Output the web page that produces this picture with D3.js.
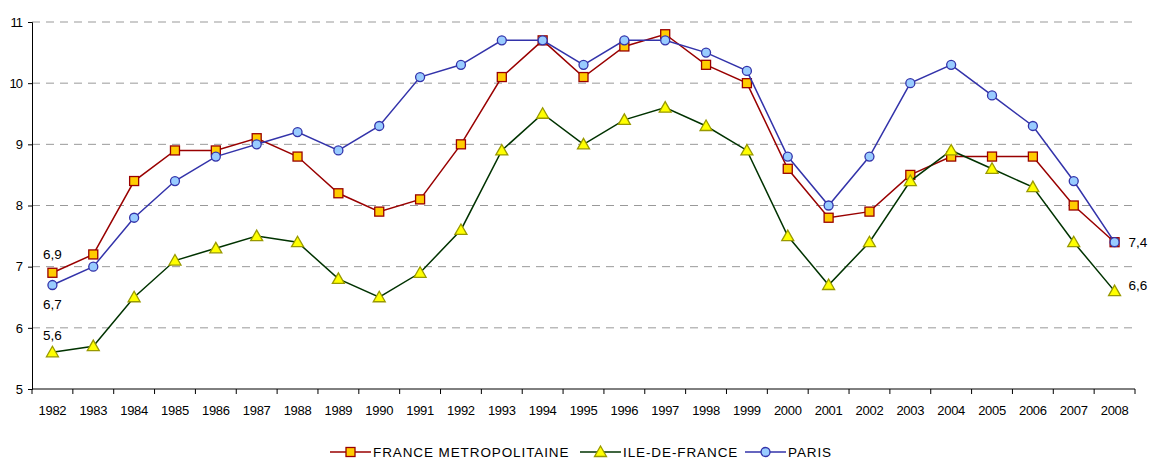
<!DOCTYPE html>
<html>
<head>
<meta charset="utf-8">
<script src="https://cdn.jsdelivr.net/npm/d3@7"></script>
<style>
  body { margin: 0; background: #fff; }
  svg { display: block; font-family: "Liberation Sans", Arial, sans-serif; }
  .grid line { stroke: #999; stroke-dasharray: 8 6; }
</style>
</head>
<body>
<svg width="1153" height="460"></svg>
<script>
// Data
const years = d3.range(1982, 2009);
const france = [6.9, 7.2, 8.4, 8.9, 8.9, 9.1, 8.8, 8.2, 7.9, 8.1, 9.0, 10.1, 10.7, 10.1, 10.6, 10.8, 10.3, 10.0, 8.6, 7.8, 7.9, 8.5, 8.8, 8.8, 8.8, 8.0, 7.4];
const idf    = [5.6, 5.7, 6.5, 7.1, 7.3, 7.5, 7.4, 6.8, 6.5, 6.9, 7.6, 8.9, 9.5, 9.0, 9.4, 9.6, 9.3, 8.9, 7.5, 6.7, 7.4, 8.4, 8.9, 8.6, 8.3, 7.4, 6.6];
const paris  = [6.7, 7.0, 7.8, 8.4, 8.8, 9.0, 9.2, 8.9, 9.3, 10.1, 10.3, 10.7, 10.7, 10.3, 10.7, 10.7, 10.5, 10.2, 8.8, 8.0, 8.8, 10.0, 10.3, 9.8, 9.3, 8.4, 7.4];
const yTicks = [5, 6, 7, 8, 9, 10, 11];

const series = [
  { name: "FRANCE METROPOLITAINE", values: france, line: "#990000", fill: "#FFCC00", stroke: "#990000", shape: "square", legendX: 330 },
  { name: "ILE-DE-FRANCE", values: idf, line: "#003300", fill: "#FFFF00", stroke: "#999900", shape: "triangle", legendX: 580 },
  { name: "PARIS", values: paris, line: "#3333AA", fill: "#99CCFF", stroke: "#3333AA", shape: "circle", legendX: 745 }
];

const svg = d3.select("svg");
const plotLeft = 32, plotRight = 1135, plotTop = 22, plotBottom = 389;

const x = d3.scaleBand().domain(years).range([plotLeft, plotRight]);
const y = d3.scaleLinear().domain([5, 11]).range([plotBottom, plotTop]);
const cx = d => x(d) + x.bandwidth() / 2;

// Gridlines
svg.append("g").attr("class", "grid")
  .selectAll("line")
  .data(yTicks.filter(t => t > 5))
  .enter().append("line")
  .attr("x1", plotLeft).attr("x2", plotRight)
  .attr("y1", d => y(d)).attr("y2", d => y(d));

// Y axis
const yAxis = svg.append("g")
  .attr("transform", `translate(${plotLeft},0)`)
  .call(d3.axisLeft(y).tickValues(yTicks).tickSize(4).tickPadding(6).tickFormat(d3.format("d")));
yAxis.select(".domain").attr("stroke", "#000");
yAxis.selectAll("text").attr("font-size", 13).attr("fill", "#000").style("letter-spacing", "-1px");

// X axis: ticks between categories
const xAxis = svg.append("g").attr("transform", `translate(0,${plotBottom})`);
xAxis.append("line").attr("x1", plotLeft).attr("x2", plotRight).attr("stroke", "#000");
xAxis.selectAll(".tk")
  .data(years.concat([2009]))
  .enter().append("line")
  .attr("x1", d => d === 2009 ? plotRight : x(d)).attr("x2", d => d === 2009 ? plotRight : x(d))
  .attr("y1", 0).attr("y2", 5).attr("stroke", "#000");
xAxis.selectAll("text")
  .data(years)
  .enter().append("text")
  .attr("x", d => cx(d)).attr("y", 26)
  .attr("text-anchor", "middle").attr("font-size", 13)
  .style("letter-spacing", "-0.3px")
  .text(d => d);

// Marker drawing
function marker(sel, s) {
  if (s.shape === "square") {
    sel.append("rect").attr("x", -4.5).attr("y", -4.5).attr("width", 9).attr("height", 9);
  } else if (s.shape === "triangle") {
    sel.append("path").attr("d", "M0,-6L6,4.5L-6,4.5Z");
  } else {
    sel.append("circle").attr("r", 4.5);
  }
  sel.selectAll("*").attr("fill", s.fill).attr("stroke", s.stroke).attr("stroke-width", 1.3);
}

const line = d3.line().x((d, i) => cx(years[i])).y(d => y(d));

series.forEach(s => {
  const g = svg.append("g");
  g.append("path").datum(s.values)
    .attr("d", line).attr("fill", "none")
    .attr("stroke", s.line).attr("stroke-width", 1.5);
  g.selectAll(".m")
    .data(s.values)
    .enter().append("g")
    .attr("transform", (d, i) => `translate(${cx(years[i])},${y(d)})`)
    .each(function() { marker(d3.select(this), s); });

  // Legend
  const lg = svg.append("g").attr("transform", `translate(${s.legendX},452)`);
  lg.append("line").attr("x1", 0).attr("x2", 41).attr("stroke", s.line).attr("stroke-width", 1.5);
  marker(lg.append("g").attr("transform", "translate(20.5,0)"), s);
  lg.append("text").attr("x", 43).attr("y", 5).attr("font-size", 13.5)
    .style("letter-spacing", "0.9px").text(s.name);
});

// Value labels
const fmt = v => d3.format(".1f")(v).replace(".", ",");
const labels = [
  { v: france[0], x: cx(1982), y: y(france[0]) - 14, anchor: "middle" },
  { v: paris[0],  x: cx(1982), y: y(paris[0]) + 24, anchor: "middle" },
  { v: idf[0],    x: cx(1982), y: y(idf[0]) - 12, anchor: "middle" },
  { v: paris[26], x: cx(2008) + 14, y: y(paris[26]) + 5, anchor: "start" },
  { v: idf[26],   x: cx(2008) + 14, y: y(idf[26]) - 1, anchor: "start" }
];
svg.selectAll(".vl")
  .data(labels)
  .enter().append("text")
  .attr("x", d => d.x).attr("y", d => d.y)
  .attr("text-anchor", d => d.anchor).attr("font-size", 13.5)
  .text(d => fmt(d.v));
</script>
</body>
</html>
